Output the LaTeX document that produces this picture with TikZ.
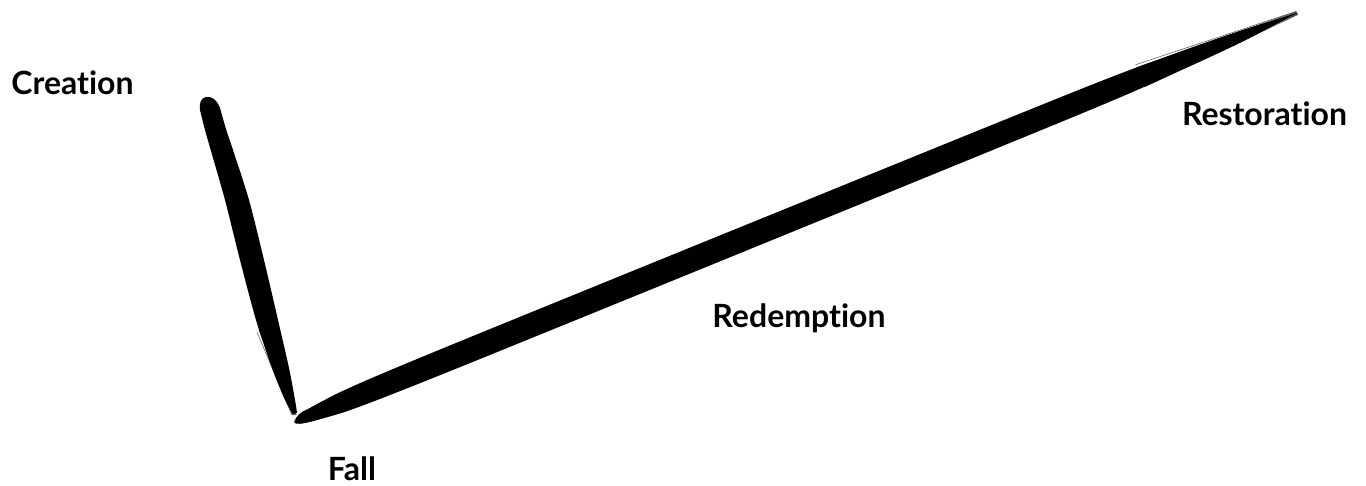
\documentclass[tikz,border=0pt]{standalone}
\usepackage{fontspec}
\setmainfont{Lato}[Ligatures=NoCommon]
\usetikzlibrary{calc}
\begin{document}
\begin{tikzpicture}[x=1pt,y=-1pt,
  label/.style={font=\fontsize{32}{38}\selectfont\bfseries, text=black, inner sep=0pt, anchor=base},
  brush/.style={fill=black, draw=none},
  streak/.style={draw=black, line width=0.5pt, line cap=round, opacity=0.7}]
\useasboundingbox (0,0) rectangle (1366,486);
% named points of the timeline
\coordinate (creationTop) at (206,97);
\coordinate (fallPoint) at (294,422);
\coordinate (restorationEnd) at (1297,13);
% descending stroke: Creation -> Fall
\fill[brush] (creationTop) .. controls (212,96) and (217,100) .. (220,108)
  -- plot[smooth, tension=0.5] coordinates {(220,108) (226,129) (233,150) (249,200) (264,260) (278,320)
  (289,368) (295,400) (297,413)}
  -- (293,414)
  -- plot[smooth, tension=0.5] coordinates {(293,414) (285,400) (272,368) (256,320) (240,260) (225,200) (211,151)
  (205,130) (200,110)}
  .. controls (199,103) and (201,98) .. (creationTop) -- cycle;
% frayed end of the descending stroke
\foreach \dx/\dy in {-5/0, -3/2, -1/-1, 1/1, 3/0, 5/1, -7/2, 7/0}{
  \draw[streak] (264+\dx,330+\dy) -- (294+\dx*0.3,415);
}
% ascending stroke: Fall -> Restoration
\fill[brush] (fallPoint) .. controls (296,416) and (302,411) .. (307.4,409.3)
  -- plot[smooth, tension=0.5] coordinates {(307.4,409.3) (338.5,392.9) (384.3,372.7) (476.7,334.5)
  (754.5,221.4) (1078.8,89.9) (1172.3,54.5) (1238.4,31.4) (1297,13)}
  -- plot[smooth, tension=0.5] coordinates {(1297,13) (1242.6,41.6) (1179.1,71.1) (1087.4,111.1) (763.5,243.6) (485.7,356.7)
  (392.9,393.9) (346.1,411.5) (312.4,421.3)}
  .. controls (302,424) and (295,425) .. (fallPoint) -- cycle;
% frayed end of the ascending stroke
\foreach \o in {-12,-9,-6,-3,0,3,6,9,12}{
  \draw[streak] ($(1140,75.9)+(0.377*\o,0.926*\o)$) -- ($(restorationEnd)+(0.377*\o*0.15,0.926*\o*0.15)$);
}
% labels
\node[label] (creation) at (72.5,95) {Creation};
\node[label] (fall) at (352,480) {Fall};
\node[label] (redemption) at (799,328) {Redemption};
\node[label] (restoration) at (1264.5,126) {Restoration};
\end{tikzpicture}
\end{document}
